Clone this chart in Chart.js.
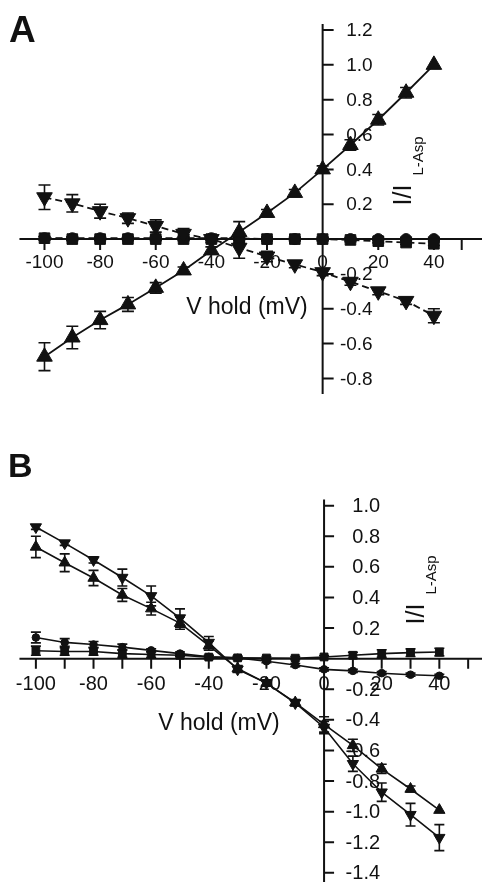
<!DOCTYPE html>
<html>
<head>
<meta charset="utf-8">
<script src="https://cdn.jsdelivr.net/npm/chart.js@4.4.1/dist/chart.umd.min.js"></script>
<style>
html, body { margin: 0; padding: 0; background: #fff; }
#wrap { position: relative; width: 482px; height: 886px; overflow: hidden; }
.panel { position: absolute; left: 0; width: 482px; }
#boxA { top: 0; height: 440px; }
#boxB { top: 440px; height: 446px; }
</style>
</head>
<body>
<div id="wrap">
  <div class="panel" id="boxA"><canvas id="chartA"></canvas></div>
  <div class="panel" id="boxB"><canvas id="chartB"></canvas></div>
</div>
<script>
// holding potentials (mV)
var voltages = [-100, -90, -80, -70, -60, -50, -40, -30, -20, -10, 0, 10, 20, 30, 40];

// panel A, I / I(L-Asp)
var aUp        = [-0.675, -0.565, -0.465, -0.375, -0.28, -0.18, -0.065, 0.04, 0.15, 0.265, 0.40, 0.54, 0.685, 0.84, 1.0];
var aUpErr     = [0.08, 0.065, 0.05, 0.04, 0.03, 0.02, 0.02, 0.06, 0.02, 0.02, 0.02, 0.03, 0.03, 0.03, 0];
var aDown      = [0.24, 0.205, 0.16, 0.12, 0.075, 0.03, 0.0, -0.05, -0.10, -0.145, -0.19, -0.245, -0.30, -0.355, -0.44];
var aDownErr   = [0.07, 0.05, 0.04, 0.03, 0.035, 0.03, 0.02, 0.06, 0.03, 0.02, 0.02, 0.02, 0.02, 0.02, 0.04];
var aCircle    = [0.005, 0.005, 0.005, 0.005, 0.005, 0.005, 0.005, 0.005, 0, 0, 0, 0, 0, 0, 0];
var aCircleErr = [0.01, 0.01, 0.01, 0.01, 0.01, 0.01, 0.01, 0.01, 0.01, 0.01, 0.01, 0.01, 0.01, 0.01, 0.01];
var aSquare    = [0.005, 0, 0, 0, 0, 0, 0, 0, 0, 0, 0, -0.005, -0.012, -0.02, -0.027];
var aSquareErr = [0.01, 0.01, 0.01, 0.01, 0.01, 0.01, 0.01, 0.01, 0.01, 0.01, 0.01, 0.01, 0.01, 0.01, 0.01];

// panel B
var bUp        = [0.73, 0.627, 0.527, 0.416, 0.327, 0.232, 0.085, -0.065, -0.16, -0.287, -0.43, -0.567, -0.72, -0.852, -0.99];
var bUpErr     = [0.07, 0.058, 0.05, 0.042, 0.042, 0.04, 0.03, 0.02, 0.02, 0.02, 0.05, 0.04, 0.03, 0.02, 0];
var bDown      = [0.86, 0.755, 0.645, 0.53, 0.41, 0.265, 0.105, -0.07, -0.16, -0.29, -0.45, -0.687, -0.873, -1.02, -1.17];
var bDownErr   = [0.015, 0.015, 0.02, 0.055, 0.065, 0.06, 0.04, 0.02, 0.02, 0.02, 0.04, 0.05, 0.06, 0.074, 0.085];
var bCircle    = [0.138, 0.106, 0.092, 0.075, 0.054, 0.033, 0.012, 0.005, -0.017, -0.042, -0.07, -0.08, -0.095, -0.105, -0.112];
var bCircleErr = [0.035, 0.025, 0.02, 0.02, 0.01, 0.01, 0.01, 0.01, 0.01, 0.01, 0.01, 0.01, 0.01, 0.01, 0.01];
var bSquare    = [0.052, 0.047, 0.047, 0.033, 0.027, 0.022, 0.01, 0.005, 0.004, 0.003, 0.011, 0.022, 0.033, 0.039, 0.043];
var bSquareErr = [0.03, 0.025, 0.025, 0.025, 0.02, 0.01, 0.01, 0.01, 0.01, 0.01, 0.01, 0.02, 0.025, 0.025, 0.025];

// ticks
var aXTicks  = [-100, -80, -60, -40, -20, 0, 20, 40, 50];
var aXLabels = [-100, -80, -60, -40, -20, 0, 20, 40];
var aYTicks  = [1.2, 1.0, 0.8, 0.6, 0.4, 0.2, -0.2, -0.4, -0.6, -0.8];
var bXTicks  = [-100, -90, -80, -70, -60, -50, -40, -30, -20, -10, 0, 10, 20, 30, 40, 50];
var bXLabels = [-100, -80, -60, -40, -20, 0, 20, 40];
var bYTicks  = [1.0, 0.8, 0.6, 0.4, 0.2, -0.2, -0.4, -0.6, -0.8, -1.0, -1.2, -1.4];

var INK = '#111';
var FONT = '"Liberation Sans", Arial, sans-serif';

function pts(vals) {
  return voltages.map(function (v, i) { return { x: v, y: vals[i] }; });
}

function series(vals, errs, style, r, dashed, rot, lw) {
  return {
    data: pts(vals),
    errors: errs,
    showLine: true,
    borderColor: INK,
    backgroundColor: INK,
    borderWidth: lw,
    borderDash: dashed ? [7, 4] : [],
    pointStyle: style,
    pointRadius: r,
    pointRotation: rot || 0,
    pointBorderWidth: 1,
    pointBackgroundColor: INK,
    pointBorderColor: INK,
    clip: false
  };
}

// draws the crossing axes, tick labels, titles and error bars
var ivAxes = {
  id: 'ivAxes',
  beforeDatasetsDraw: function (chart, args, o) {
    var ctx = chart.ctx;
    var X = function (v) { return chart.scales.x.getPixelForValue(v); };
    var Y = function (v) { return chart.scales.y.getPixelForValue(v); };
    ctx.save();
    ctx.strokeStyle = INK;
    ctx.fillStyle = INK;
    ctx.lineWidth = 2;
    ctx.setLineDash([]);

    ctx.beginPath();
    ctx.moveTo(X(o.xLine[0]), Y(0));
    ctx.lineTo(X(o.xLine[1]), Y(0));
    ctx.moveTo(X(0), Y(o.yLine[0]));
    ctx.lineTo(X(0), Y(o.yLine[1]));
    o.xTicks.forEach(function (v) {
      ctx.moveTo(X(v), Y(0));
      ctx.lineTo(X(v), Y(0) + o.tickLen);
    });
    o.yTicks.forEach(function (v) {
      ctx.moveTo(X(0), Y(v));
      ctx.lineTo(X(0) + o.tickLen, Y(v));
    });
    ctx.stroke();

    ctx.font = o.tickSize + 'px ' + FONT;
    ctx.textAlign = 'center';
    ctx.textBaseline = 'middle';
    o.xLabels.forEach(function (v) {
      ctx.fillText(String(v), X(v), Y(0) + o.xLabelGap);
    });
    ctx.textAlign = 'right';
    o.yTicks.forEach(function (v) {
      ctx.fillText(v.toFixed(1), X(0) + o.yLabelRight, Y(v) + 1);
    });

    // axis titles
    ctx.textAlign = 'center';
    ctx.font = o.titleSize + 'px ' + FONT;
    ctx.fillText('V hold (mV)', o.xTitle[0], o.xTitle[1]);

    ctx.save();
    ctx.translate(o.yTitle[0], o.yTitle[1]);
    ctx.rotate(-Math.PI / 2);
    ctx.font = o.yTitleSize + 'px ' + FONT;
    ctx.fillText('I/I', 0, 0);
    ctx.restore();
    ctx.save();
    ctx.translate(o.ySub[0], o.ySub[1]);
    ctx.rotate(-Math.PI / 2);
    ctx.font = o.ySubSize + 'px ' + FONT;
    ctx.fillText('L-Asp', 0, 0);
    ctx.restore();

    // panel letter
    ctx.textAlign = 'left';
    ctx.textBaseline = 'alphabetic';
    ctx.font = 'bold ' + o.letterSize + 'px ' + FONT;
    ctx.fillText(o.letter, o.letterPos[0], o.letterPos[1]);

    // error bars
    ctx.lineWidth = 1.6;
    chart.data.datasets.forEach(function (ds) {
      ds.data.forEach(function (p, j) {
        var e = ds.errors[j];
        if (!e) return;
        var x = X(p.x), t = Y(p.y + e), b = Y(p.y - e), c = o.cap / 2;
        ctx.beginPath();
        ctx.moveTo(x, t); ctx.lineTo(x, b);
        ctx.moveTo(x - c, t); ctx.lineTo(x + c, t);
        ctx.moveTo(x - c, b); ctx.lineTo(x + c, b);
        ctx.stroke();
      });
    });
    ctx.restore();
  }
};

function makeChart(id, datasets, xr, yr, axes) {
  return new Chart(document.getElementById(id).getContext('2d'), {
    type: 'scatter',
    data: { datasets: datasets },
    options: {
      responsive: true,
      maintainAspectRatio: false,
      animation: false,
      layout: { padding: 0 },
      plugins: { legend: { display: false }, tooltip: { enabled: false }, ivAxes: axes },
      scales: {
        x: { type: 'linear', display: false, min: xr[0], max: xr[1] },
        y: { type: 'linear', display: false, min: yr[0], max: yr[1] }
      }
    },
    plugins: [ivAxes]
  });
}

makeChart('chartA', [
  series(aUp, aUpErr, 'triangle', 9, false, 0, 1.8),
  series(aDown, aDownErr, 'triangle', 9, true, 180, 1.8),
  series(aSquare, aSquareErr, 'rect', 7.5, true, 0, 1.8),
  series(aCircle, aCircleErr, 'circle', 5.5, true, 0, 1.8)
], [-112.4, 53.7], [-1.096, 1.315], {
  xLine: [-109, 60], yLine: [1.235, -0.89],
  xTicks: aXTicks, xLabels: aXLabels, yTicks: aYTicks,
  tickLen: 11, tickSize: 19, xLabelGap: 24, yLabelRight: 50,
  titleSize: 23, xTitle: [247, 308],
  yTitle: [404, 195], yTitleSize: 25, ySub: [419, 156], ySubSize: 15,
  letter: 'A', letterSize: 37, letterPos: [9, 42], cap: 12
});

makeChart('chartB', [
  series(bUp, bUpErr, 'triangle', 6.5, false, 0, 1.6),
  series(bDown, bDownErr, 'triangle', 6.5, false, 180, 1.6),
  series(bSquare, bSquareErr, 'rect', 5.5, false, 0, 1.6),
  series(bCircle, bCircleErr, 'circle', 3.8, false, 0, 1.6)
], [-109.85, 52.2], [-1.437, 1.380], {
  xLine: [-105.7, 60], yLine: [1.04, -1.46],
  xTicks: bXTicks, xLabels: bXLabels, yTicks: bYTicks,
  tickLen: 10, tickSize: 20, xLabelGap: 26, yLabelRight: 56,
  titleSize: 23, xTitle: [219, 284],
  yTitle: [417, 174], yTitleSize: 25, ySub: [432, 135], ySubSize: 15,
  letter: 'B', letterSize: 34, letterPos: [8, 37], cap: 10
});
</script>
</body>
</html>
